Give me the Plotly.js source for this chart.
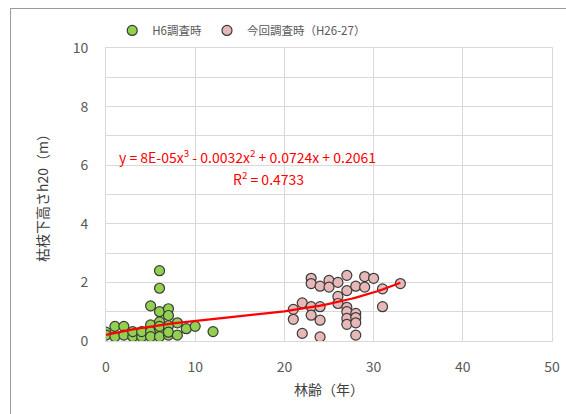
<!DOCTYPE html>
<html>
<head>
<meta charset="utf-8">
<script src="https://cdn.plot.ly/plotly-3.0.1.min.js"></script>
<style>
  html, body { margin: 0; padding: 0; background: #fff; }
  #wrap { position: relative; width: 566px; height: 414px; overflow: hidden; }
  #frame { position: absolute; left: 10px; top: 8px; width: 600px; height: 500px;
           border-left: 1.5px solid #9a9a9a; border-top: 1.5px solid #9a9a9a; pointer-events: none; }
  #chart { position: absolute; left: 0; top: 0; width: 566px; height: 414px; }
</style>
</head>
<body>
<div id="wrap">
  <div id="chart"></div>
  <div id="frame"></div>
</div>
<script>
// H6 survey (green)
const h6Age    = [0, 0, 1, 1, 2, 2, 3, 3, 4, 4, 5, 5, 5, 5, 6, 6, 6, 6, 6, 6, 6, 7, 7, 7, 7, 7, 8, 8, 9, 10, 12];
const h6Height = [0.3, 0.2, 0.5, 0.15, 0.5, 0.2, 0.15, 0.32, 0.15, 0.32, 1.2, 0.55, 0.32, 0.15, 2.4, 1.8, 1.0, 0.65, 0.4, 0.15, 0.5, 1.1, 0.87, 0.52, 0.2, 0.3, 0.62, 0.2, 0.42, 0.5, 0.32];
// Current survey H26-27 (pink)
const nowAge    = [21, 21, 22, 22, 23, 23, 23, 23, 24, 24, 24, 24, 25, 25, 26, 26, 26, 27, 27, 27, 27, 27, 27, 28, 28, 28, 28, 28, 29, 29, 30, 31, 31, 33];
const nowHeight = [1.08, 0.74, 1.3, 0.26, 2.14, 1.96, 1.17, 0.88, 1.87, 1.17, 0.71, 0.14, 2.07, 1.84, 2.0, 1.52, 1.28, 2.24, 1.72, 1.15, 1.0, 0.77, 0.57, 1.87, 0.94, 0.8, 0.62, 0.2, 2.2, 1.84, 2.14, 1.78, 1.17, 1.96];
// Trendline coefficients shown on the chart (cubic, highest power first)
const trendCoef = [8e-5, -0.0032, 0.0724, 0.2061];
const trendRange = [0, 33];
const xTicks = [0, 10, 20, 30, 40, 50];
const yTicks = [0, 2, 4, 6, 8, 10];

const trendX = [];
for (let x = trendRange[0]; x <= trendRange[1] + 1e-9; x += 0.5) trendX.push(x);
const trendY = trendX.map(x => trendCoef[0]*x*x*x + trendCoef[1]*x*x + trendCoef[2]*x + trendCoef[3]);

const font = '"Noto Sans CJK JP", "Noto Sans", sans-serif';

const traces = [
  { type: 'scatter', mode: 'markers', name: 'H6調査時', x: h6Age, y: h6Height,
    marker: { size: 10, color: '#92D050', line: { color: '#3a3a3a', width: 1.2 } } },
  { type: 'scatter', mode: 'markers', name: '今回調査時（H26-27）', x: nowAge, y: nowHeight,
    marker: { size: 10, color: '#E6B8B7', line: { color: '#3a3a3a', width: 1.2 } } },
  { type: 'scatter', mode: 'lines', x: trendX, y: trendY, showlegend: false,
    line: { color: '#FF0000', width: 2.2 } }
];

const layout = {
  width: 566, height: 414,
  margin: { l: 106, r: 14, t: 48, b: 73 },
  paper_bgcolor: 'rgba(0,0,0,0)', plot_bgcolor: '#fff',
  font: { family: font, color: '#595959', size: 14 },
  showlegend: true,
  legend: { orientation: 'h', x: 0.014, xanchor: 'left', y: 1.06, yanchor: 'middle',
            font: { size: 11.5, color: '#595959' }, bgcolor: 'rgba(0,0,0,0)' },
  xaxis: { range: [0, 50], tickvals: xTicks, showgrid: true, gridcolor: '#d9d9d9', gridwidth: 1,
           zeroline: false, showline: true, linecolor: '#d9d9d9', mirror: true, ticks: '',
           ticklabelstandoff: 13, tickfont: { size: 14, color: '#595959' },
           title: { text: '林齢（年）', font: { size: 14, color: '#404040' }, standoff: 10 } },
  yaxis: { range: [0, 10], tickvals: yTicks, showgrid: true, gridcolor: '#d9d9d9', gridwidth: 1,
           minor: { dtick: 1, showgrid: true, gridcolor: '#d9d9d9', gridwidth: 1 },
           zeroline: false, showline: true, linecolor: '#d9d9d9', mirror: true, ticks: '',
           ticklabelstandoff: 14, tickfont: { size: 14, color: '#595959' },
           title: { text: '枯枝下高さh20（m）', font: { size: 14, color: '#404040' }, standoff: 20 } },
  annotations: [
    { xref: 'paper', yref: 'paper', x: (117-106)/446, y: (341-156)/293, xanchor: 'left', yanchor: 'middle',
      showarrow: false, text: 'y = 8E-05x<sup>3</sup> - 0.0032x<sup>2</sup> + 0.0724x + 0.2061',
      font: { size: 14, color: '#FF0000', family: font } },
    { xref: 'paper', yref: 'paper', x: (231-106)/446, y: (341-178)/293, xanchor: 'left', yanchor: 'middle',
      showarrow: false, text: 'R<sup>2</sup> = 0.4733',
      font: { size: 14, color: '#FF0000', family: font } }
  ]
};

Plotly.newPlot('chart', traces, layout, { staticPlot: true });
</script>
</body>
</html>
